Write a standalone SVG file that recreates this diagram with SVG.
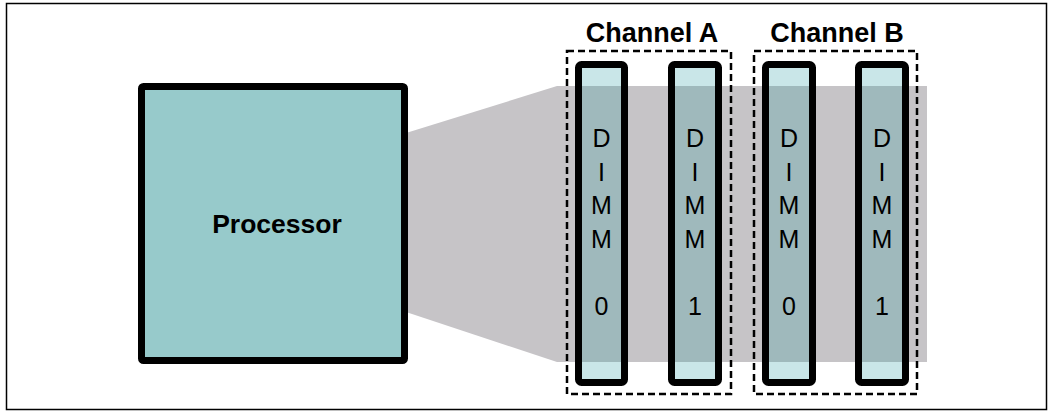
<svg xmlns="http://www.w3.org/2000/svg" width="1053" height="414" viewBox="0 0 1053 414">
<style>
.lbl{font-family:"Liberation Sans",Arial,sans-serif;fill:#000}
.title{font-size:27px;font-weight:bold;text-anchor:middle}
.proc{font-size:26.5px;font-weight:bold;text-anchor:middle}
.dimmtxt{font-size:25px;text-anchor:middle}
.dimmbody{fill:#C9E6E8}
.dimmmid{fill:#9FB9BC}
.dimmframe{fill:none;stroke:#000;stroke-width:7}
.chan{fill:none;stroke:#000;stroke-width:2.5;stroke-dasharray:7 4}
</style>
<rect x="0" y="0" width="1053" height="414" fill="#fff"/>
<rect x="6.5" y="3.5" width="1040" height="406" fill="none" stroke="#000" stroke-width="1.5"/>
<g id="connectors">
<polygon points="406,133 557,86 927,86 927,362 557,362 406,312" fill="#C6C4C7"/>
</g>
<g id="processor">
<rect x="141.5" y="86.5" width="263" height="274" rx="2" fill="#97CACB" stroke="#000" stroke-width="7"/>
<text class="lbl proc" x="277" y="233">Processor</text>
</g>
<g id="channelA">
<rect class="chan" x="567" y="51" width="164" height="343"/>
<text class="lbl title" x="652" y="42">Channel A</text>
</g>
<g id="channelB">
<rect class="chan" x="754" y="51" width="163" height="343"/>
<text class="lbl title" x="837" y="42">Channel B</text>
</g>
<g id="dimmA0">
<rect class="dimmbody" x="578.5" y="64.5" width="46" height="318"/>
<rect class="dimmmid" x="578.5" y="86" width="46" height="276"/>
<rect class="dimmframe" x="578.5" y="64.5" width="46" height="318" rx="3"/>
<text class="lbl dimmtxt" x="601.5"><tspan x="601.5" y="147">D</tspan><tspan x="601.5" y="180.5">I</tspan><tspan x="601.5" y="214">M</tspan><tspan x="601.5" y="247.5">M</tspan><tspan x="601.5" y="315">0</tspan></text>
</g>
<g id="dimmA1">
<rect class="dimmbody" x="671.5" y="64.5" width="47" height="318"/>
<rect class="dimmmid" x="671.5" y="86" width="47" height="276"/>
<rect class="dimmframe" x="671.5" y="64.5" width="47" height="318" rx="3"/>
<text class="lbl dimmtxt" x="695"><tspan x="695" y="147">D</tspan><tspan x="695" y="180.5">I</tspan><tspan x="695" y="214">M</tspan><tspan x="695" y="247.5">M</tspan><tspan x="695" y="315">1</tspan></text>
</g>
<g id="dimmB0">
<rect class="dimmbody" x="765.5" y="64.5" width="47" height="318"/>
<rect class="dimmmid" x="765.5" y="86" width="47" height="276"/>
<rect class="dimmframe" x="765.5" y="64.5" width="47" height="318" rx="3"/>
<text class="lbl dimmtxt" x="789"><tspan x="789" y="147">D</tspan><tspan x="789" y="180.5">I</tspan><tspan x="789" y="214">M</tspan><tspan x="789" y="247.5">M</tspan><tspan x="789" y="315">0</tspan></text>
</g>
<g id="dimmB1">
<rect class="dimmbody" x="858.5" y="64.5" width="47" height="318"/>
<rect class="dimmmid" x="858.5" y="86" width="47" height="276"/>
<rect class="dimmframe" x="858.5" y="64.5" width="47" height="318" rx="3"/>
<text class="lbl dimmtxt" x="882"><tspan x="882" y="147">D</tspan><tspan x="882" y="180.5">I</tspan><tspan x="882" y="214">M</tspan><tspan x="882" y="247.5">M</tspan><tspan x="882" y="315">1</tspan></text>
</g>
</svg>
